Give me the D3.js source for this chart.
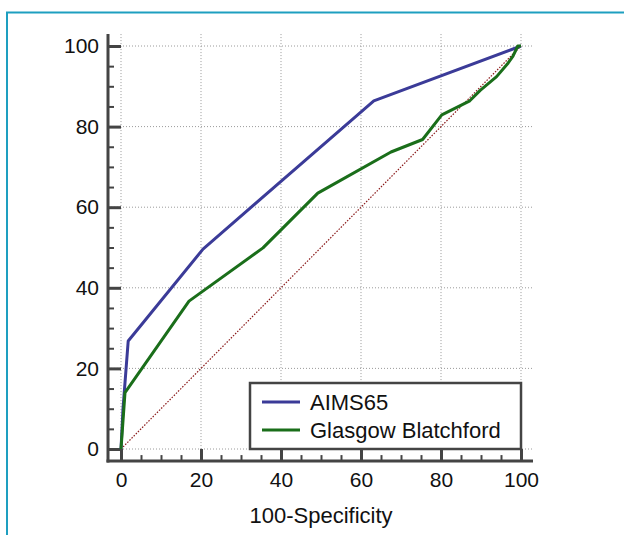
<!DOCTYPE html>
<html>
<head>
<meta charset="utf-8">
<script src="https://cdn.jsdelivr.net/npm/d3@7"></script>
<style>
  body { margin: 0; background: #fff; }
  svg text { font-family: "Liberation Sans", Arial, sans-serif; fill: #111; }
</style>
</head>
<body>
<svg id="chart" width="624" height="535"></svg>
<script>
// ROC curves (x = 100-Specificity, y = Sensitivity)
var aimsX = [0, 0.5, 1.8, 20.5, 63.2, 100]
var aimsY = [0, 10, 26.8, 49.6, 86.4, 100]

var gbsX = [0, 1.0, 17.0, 35.5, 49.2, 67.5, 75.4, 80.2, 87.2, 89.8, 93.9, 96.8, 98.0, 99.2, 100]
var gbsY = [0, 14.0, 36.7, 49.9, 63.5, 73.7, 76.8, 82.9, 86.4, 89.0, 92.4, 95.8, 97.5, 100, 100]

var seriesNames = ["AIMS65", "Glasgow Blatchford"]
var seriesColors = ["#3b3b98", "#1a6e1a"]
var majorTicks = [0, 20, 40, 60, 80, 100]

var svg = d3.select("#chart")

// frame around the figure (only top and left edges are in view)
svg.append("path")
    .attr("d", "M7,535 L7,12.5 L624,12.5")
    .attr("fill", "none")
    .attr("stroke", "#1e9fc0")
    .attr("stroke-width", 2)

var xScale = d3.scaleLinear().domain([0, 100]).range([121, 521])
var yScale = d3.scaleLinear().domain([0, 100]).range([449, 46])

var xLo = -3.25, xHi = 103, yLo = -3, yHi = 103
var minorTicks = d3.range(0, 101, 5).filter(function (d) { return d % 20 != 0 })

// grid
var grid = svg.append("g")
grid.selectAll(".hgrid")
    .data(majorTicks)
    .enter().append("line")
    .attr("x1", xScale(xLo)).attr("x2", xScale(xHi))
    .attr("y1", function (d) { return yScale(d) })
    .attr("y2", function (d) { return yScale(d) })
grid.selectAll(".vgrid")
    .data(majorTicks)
    .enter().append("line")
    .attr("y1", yScale(yLo)).attr("y2", yScale(yHi))
    .attr("x1", function (d) { return xScale(d) })
    .attr("x2", function (d) { return xScale(d) })
grid.selectAll("line")
    .attr("stroke", "#9a9a9a")
    .attr("stroke-width", 1)
    .attr("stroke-dasharray", "1,2")

// diagonal reference
svg.append("line")
    .attr("x1", xScale(0)).attr("y1", yScale(0))
    .attr("x2", xScale(100)).attr("y2", yScale(100))
    .attr("stroke", "#8b1a1a")
    .attr("stroke-width", 1.2)
    .attr("stroke-dasharray", "1.5,1.5")

var axisColor = "#444"

// y axis
var yMajorLen = xScale(0) - xScale(xLo)
var yAxisG = svg.append("g")
    .attr("transform", "translate(" + xScale(xLo) + ",0)")
    .call(d3.axisLeft(yScale).tickValues(majorTicks).tickSize(-yMajorLen).tickPadding(9))
var yMinorG = svg.append("g")
    .attr("transform", "translate(" + xScale(xLo) + ",0)")
    .call(d3.axisLeft(yScale).tickValues(minorTicks).tickSize(-6).tickFormat(""))

// x axis
var xMajorLen = yScale(yLo) - yScale(0)
var xAxisG = svg.append("g")
    .attr("transform", "translate(0," + yScale(yLo) + ")")
    .call(d3.axisBottom(xScale).tickValues(majorTicks).tickSize(-xMajorLen).tickPadding(11))
var xMinorG = svg.append("g")
    .attr("transform", "translate(0," + yScale(yLo) + ")")
    .call(d3.axisBottom(xScale).tickValues(minorTicks).tickSize(-6).tickFormat(""))

svg.selectAll(".domain").remove()
yAxisG.selectAll("line").attr("stroke", axisColor).attr("stroke-width", 3)
xAxisG.selectAll("line").attr("stroke", axisColor).attr("stroke-width", 3)
yMinorG.selectAll("line").attr("stroke", axisColor).attr("stroke-width", 2)
xMinorG.selectAll("line").attr("stroke", axisColor).attr("stroke-width", 2)
svg.selectAll(".tick text")
    .style("font-size", "21px")
    .style("font-family", "'Liberation Sans', Arial, sans-serif")
    .attr("fill", "#111")

// axis lines
svg.append("line")
    .attr("x1", xScale(xLo)).attr("x2", xScale(xLo))
    .attr("y1", yScale(yHi)).attr("y2", yScale(yLo) + 1.5)
    .attr("stroke", axisColor).attr("stroke-width", 3)
svg.append("line")
    .attr("x1", xScale(xLo) - 1.5).attr("x2", xScale(xHi))
    .attr("y1", yScale(yLo)).attr("y2", yScale(yLo))
    .attr("stroke", axisColor).attr("stroke-width", 3)

// curves
var line = d3.line()
    .x(function (d) { return xScale(d[0]) })
    .y(function (d) { return yScale(d[1]) })

var series = [d3.zip(aimsX, aimsY), d3.zip(gbsX, gbsY)]
series.forEach(function (pts, i) {
    svg.append("path")
        .datum(pts)
        .attr("fill", "none")
        .attr("stroke", seriesColors[i])
        .attr("stroke-width", 3)
        .attr("stroke-linejoin", "round")
        .attr("d", line)
})

// legend
var legend = svg.append("g")
legend.append("rect")
    .attr("x", 250).attr("y", 383)
    .attr("width", xScale(100) - 250).attr("height", yScale(0) - 383)
    .attr("fill", "#fff")
    .attr("stroke", axisColor)
    .attr("stroke-width", 2.5)
seriesNames.forEach(function (name, i) {
    var ly = 402 + i * 28
    legend.append("line")
        .attr("x1", 262).attr("x2", 300)
        .attr("y1", ly).attr("y2", ly)
        .attr("stroke", seriesColors[i])
        .attr("stroke-width", 3)
    legend.append("text")
        .attr("x", 310).attr("y", ly + 8)
        .style("font-size", "22px")
        .text(name)
})

// axis title
svg.append("text")
    .attr("x", (xScale(0) + xScale(100)) / 2)
    .attr("y", 523)
    .attr("text-anchor", "middle")
    .style("font-size", "22px")
    .text("100-Specificity")
</script>
</body>
</html>
